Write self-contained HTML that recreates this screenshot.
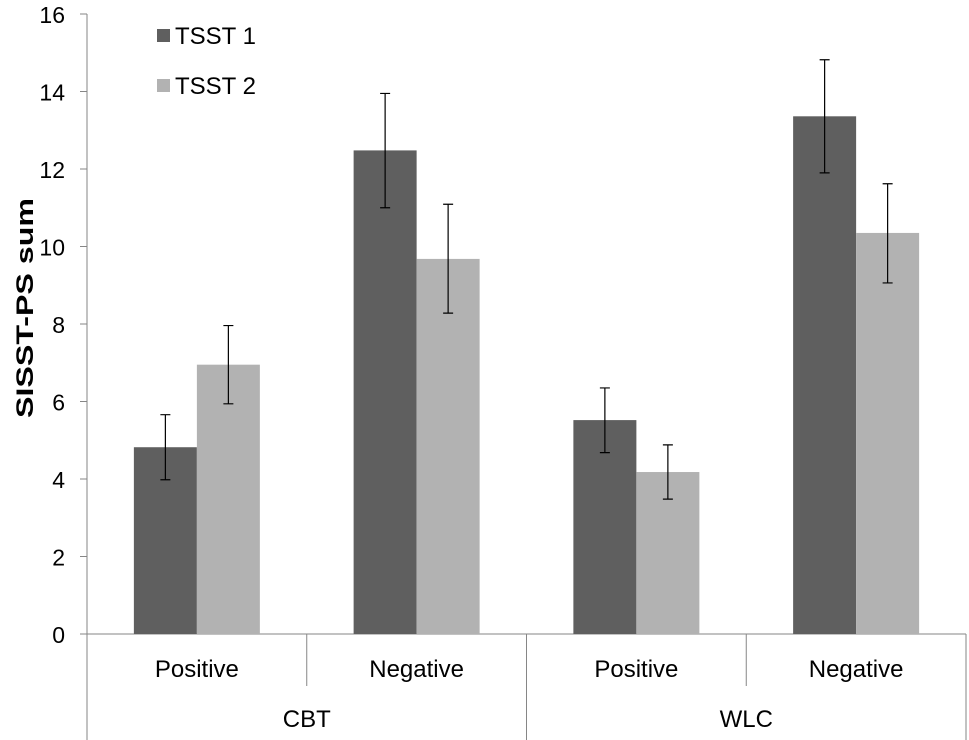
<!DOCTYPE html>
<html><head><meta charset="utf-8"><style>
body{margin:0;background:#fff;}
svg{display:block;font-family:"Liberation Sans",Arial,sans-serif;}
</style></head><body>
<svg id="chart" width="969" height="740"></svg>
<script>
const groups=["CBT","WLC"];
const categories=["Positive","Negative","Positive","Negative"];
const tsst1=[4.82,12.48,5.52,13.36];
const tsst1Lo=[3.98,11.0,4.68,11.9];
const tsst1Hi=[5.66,13.95,6.35,14.82];
const tsst2=[6.95,9.68,4.18,10.35];
const tsst2Lo=[5.94,8.28,3.48,9.06];
const tsst2Hi=[7.96,11.09,4.88,11.62];
const yTicks=[0,2,4,6,8,10,12,14,16];
const seriesNames=["TSST 1","TSST 2"];

const NS="http://www.w3.org/2000/svg";
const svg=document.getElementById('chart');
const x0=87,x1=966,y0=634,yTop=14,yMax=16;
const catW=(x1-x0)/categories.length;
const y=v=>y0-(v/yMax)*(y0-yTop);
const bw=63;
function mk(tag,attrs,text){const e=document.createElementNS(NS,tag);for(const k in attrs)e.setAttribute(k,attrs[k]);if(text!==undefined)e.textContent=text;svg.appendChild(e);return e;}

let a=mk('line',{x1:x0,y1:yTop,x2:x0,y2:740,stroke:'#868686','stroke-width':1});


yTicks.forEach(t=>{
 let l=mk('line',{x1:x0-7,y1:y(t),x2:x0,y2:y(t),stroke:'#868686'});
 
 
 let tx=mk('text',{x:x0-22,y:y(t)+9,'text-anchor':'end','font-size':23,fill:'#000'},String(t));
 
 
});
let xa=mk('line',{x1:x0,y1:y0,x2:x1,y2:y0,stroke:'#868686'});


for(let i=0;i<=categories.length;i++){
 const xx=x0+i*catW;
 const full=(i%2===0);
 let l=mk('line',{x1:xx,y1:y0,x2:xx,y2:full?740:686,stroke:'#868686'});
 
 
}
let yt=mk('text',{x:0,y:0,transform:'translate(33,308) rotate(-90)','text-anchor':'middle','font-size':24,'font-weight':'bold',textLength:220,lengthAdjust:'spacingAndGlyphs'},'SISST-PS sum');



const series=[[tsst1,tsst1Lo,tsst1Hi,'#5f5f5f'],[tsst2,tsst2Lo,tsst2Hi,'#b2b2b2']];
categories.forEach((c,i)=>{
 const cx=x0+i*catW+catW/2;
 series.forEach((s,j)=>{
  const bx=cx-bw+j*bw;
  let r=mk('rect',{x:bx,y:y(s[0][i]),width:bw,height:y0-y(s[0][i]),fill:s[3]});
  
  
  const mx=bx+bw/2;
  let e=mk('path',{d:`M${mx},${y(s[1][i])}V${y(s[2][i])}M${mx-5},${y(s[1][i])}H${mx+5}M${mx-5},${y(s[2][i])}H${mx+5}`,stroke:'#000','stroke-width':1.2,fill:'none'});
  
  
 });
 let t=mk('text',{x:cx,y:677,'text-anchor':'middle','font-size':24},c);
 
 
});
groups.forEach((g,i)=>{
 let t=mk('text',{x:x0+(i*2+1)*catW,y:727,'text-anchor':'middle','font-size':24},g);
 
 
});
seriesNames.forEach((n,i)=>{
 let r=mk('rect',{x:157,y:29+i*50,width:13,height:13,fill:series[i][3]});
 
 
 let t=mk('text',{x:175,y:44+i*50,'font-size':24},n);
 
 
});
</script>
</body></html>
